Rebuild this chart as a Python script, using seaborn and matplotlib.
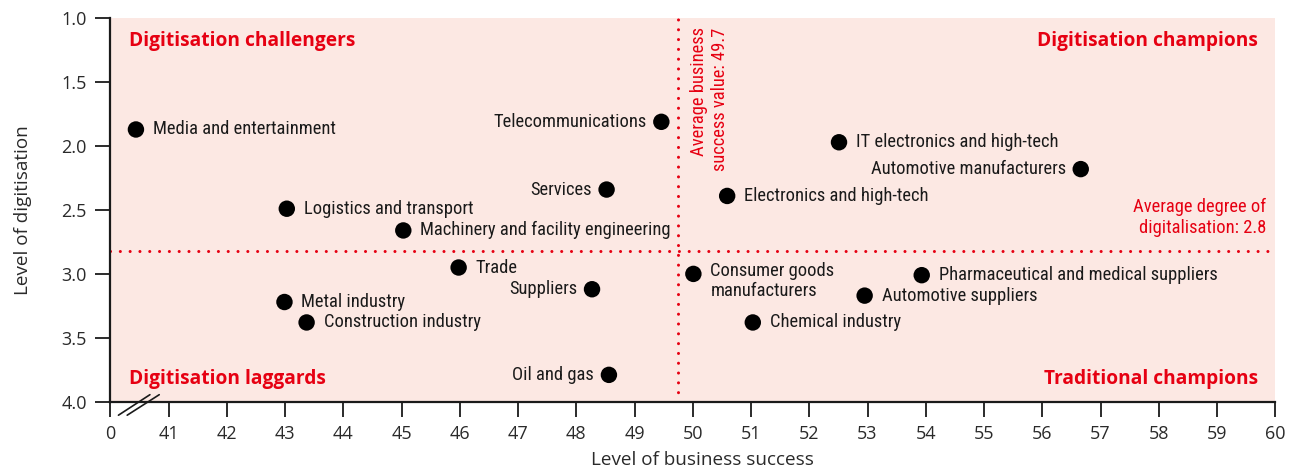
import matplotlib
matplotlib.use("Agg")
import matplotlib.pyplot as plt
import matplotlib.transforms as mtransforms
from matplotlib import font_manager as fm
import seaborn as sns
import pandas as pd

sectors = ["Media and entertainment", "Logistics and transport", "Machinery and facility engineering",
           "Metal industry", "Construction industry", "Trade", "Telecommunications", "Services",
           "Suppliers", "Oil and gas", "Consumer goods\nmanufacturers", "Chemical industry",
           "Electronics and high-tech", "IT electronics and high-tech", "Automotive manufacturers",
           "Pharmaceutical and medical suppliers", "Automotive suppliers"]
business_success = [40.44, 43.03, 45.03, 42.99, 43.37, 45.98, 49.46, 48.52,
                    48.27, 48.56, 50.01, 51.03, 50.59, 52.51, 56.66, 53.93, 52.95]
digitisation = [1.87, 2.49, 2.66, 3.22, 3.38, 2.95, 1.81, 2.34,
                3.12, 3.79, 3.00, 3.38, 2.39, 1.97, 2.18, 3.01, 3.17]
label_side = ["r", "r", "r", "r", "r", "r", "l", "l",
              "l", "l", "r", "r", "r", "r", "l", "r", "r"]
x_ticks = [40, 41, 42, 43, 44, 45, 46, 47, 48, 49, 50, 51, 52, 53, 54, 55, 56, 57, 58, 59, 60]
x_tick_labels = ["0"] + [str(v) for v in x_ticks[1:]]
y_ticks = [1.0, 1.5, 2.0, 2.5, 3.0, 3.5, 4.0]
avg_success = 49.75
avg_digitisation = 2.82

df = pd.DataFrame({"sector": sectors, "success": business_success,
                   "digitisation": digitisation, "side": label_side})

RED = "#E60012"
PINK = "#FCE8E3"
INK = "#1a1a1a"

sns.set_theme(style="ticks")
plt.rcParams["font.family"] = ["Open Sans", "DejaVu Sans"]

# pick a narrow/condensed regular font if one is installed
cands = []
for f in fm.fontManager.ttflist:
    low = (f.fname + " " + f.name).lower()
    if ("narrow" in low or "condensed" in low or f.stretch in ("condensed", "semi-condensed")) \
            and "bold" not in low and "italic" not in low and "oblique" not in low \
            and "mono" not in low and "serif" not in f.name.lower() and f.weight in (400, "normal", "regular"):
        cands.append(f)
pref = ["liberation sans narrow", "roboto condensed", "open sans condensed", "noto sans condensed",
        "dejavu sans condensed", "dejavusanscondensed"]
def rank(f):
    low = (f.fname + " " + f.name).lower()
    for i, p in enumerate(pref):
        if p in low or p.replace(" ", "") in low.replace(" ", ""):
            return i
    return len(pref)
if cands:
    cands.sort(key=rank)
    narrow_fp = fm.FontProperties(fname=cands[0].fname)
else:
    narrow_fp = fm.FontProperties(family="Roboto")

fig = plt.figure(figsize=(12.96, 4.76), dpi=100)
renderer = fig.canvas.get_renderer()

def fit_size(text, width_px, **kw):
    t = fig.text(0, 0, text, fontsize=10, **kw)
    w = t.get_window_extent(renderer).width
    t.remove()
    return 10 * width_px / w

lab_size = fit_size("Media and entertainment", 181, fontproperties=narrow_fp)
quad_size = fit_size("Digitisation challengers", 226, fontweight="bold")

ax = fig.add_axes([110.3 / 1296, 1 - 401.7 / 476, (1275.3 - 110.3) / 1296, (401.7 - 18.3) / 476])
ax.set_facecolor(PINK)

sns.scatterplot(data=df, x="success", y="digitisation", ax=ax, color="black",
                s=140, edgecolor="none", legend=False, zorder=3)

ax.set_xlim(40, 60)
ax.set_ylim(4.0, 1.0)
ax.set_xticks(x_ticks)
ax.set_xticklabels(x_tick_labels)
ax.set_yticks(y_ticks)
ax.set_yticklabels([f"{v:.1f}" for v in y_ticks])

for s in ["top", "right"]:
    ax.spines[s].set_visible(False)
for s in ["left", "bottom"]:
    ax.spines[s].set_linewidth(1.6)
    ax.spines[s].set_color(INK)
ax.tick_params(axis="both", direction="out", length=11, width=1.3, color=INK,
               labelsize=13, labelcolor="#2a2a2a", pad=6)

ax.set_xlabel("Level of business success", fontsize=13.6, color="#2a2a2a")
ax.xaxis.set_label_coords(0.508, -0.128)
ax.set_ylabel("Level of digitisation", fontsize=13.6, color="#2a2a2a", labelpad=21)

dot_style = dict(color=RED, lw=2.2, linestyle=(0, (0.01, 3.2)), dash_capstyle="round", zorder=2)
ax.axvline(avg_success, **dot_style)
ax.axhline(avg_digitisation, **dot_style)

for _, r in df.iterrows():
    if r["side"] == "r":
        dx, ha = 17, "left"
    else:
        dx, ha = -15, "right"
    if "\n" in r["sector"]:
        ax.annotate(r["sector"], (r["success"], r["digitisation"]), xytext=(dx, 12),
                    textcoords="offset pixels", ha=ha, va="top", fontproperties=narrow_fp,
                    fontsize=lab_size, color=INK, linespacing=1.12)
    else:
        ax.annotate(r["sector"], (r["success"], r["digitisation"]), xytext=(dx, 0),
                    textcoords="offset pixels", ha=ha, va="center", fontproperties=narrow_fp,
                    fontsize=lab_size, color=INK)

quad = dict(color=RED, fontsize=quad_size, fontweight="bold", transform=ax.transAxes)
ax.text(0.016, 0.941, "Digitisation challengers", ha="left", va="center", **quad)
ax.text(0.016, 0.060, "Digitisation laggards", ha="left", va="center", **quad)
ax.text(0.985, 0.941, "Digitisation champions", ha="right", va="center", **quad)
ax.text(0.985, 0.060, "Traditional champions", ha="right", va="center", **quad)

ax.annotate("Average business\nsuccess value: 49.7", (avg_success, 1.0), xytext=(12, -9),
            textcoords="offset pixels", rotation=90, ha="left", va="top",
            multialignment="right", fontproperties=narrow_fp, fontsize=lab_size,
            color=RED, linespacing=1.2)
ax.annotate("Average degree of\ndigitalisation: 2.8", (60, avg_digitisation), xytext=(-9, 14),
            textcoords="offset pixels", ha="right", va="bottom",
            multialignment="right", fontproperties=narrow_fp, fontsize=lab_size,
            color=RED, linespacing=1.2)

# axis break marks
trans = mtransforms.blended_transform_factory(ax.transData, ax.transAxes)
px = 1.0 / (401.7 - 18.3)
for x0, x1 in [(40.14, 40.68), (40.29, 40.84)]:
    ax.plot([x0, x1], [-13.5 * px, 7 * px], transform=trans, color=INK,
            lw=1.2, clip_on=False, zorder=5)

fig.savefig("out.png", dpi=100)
